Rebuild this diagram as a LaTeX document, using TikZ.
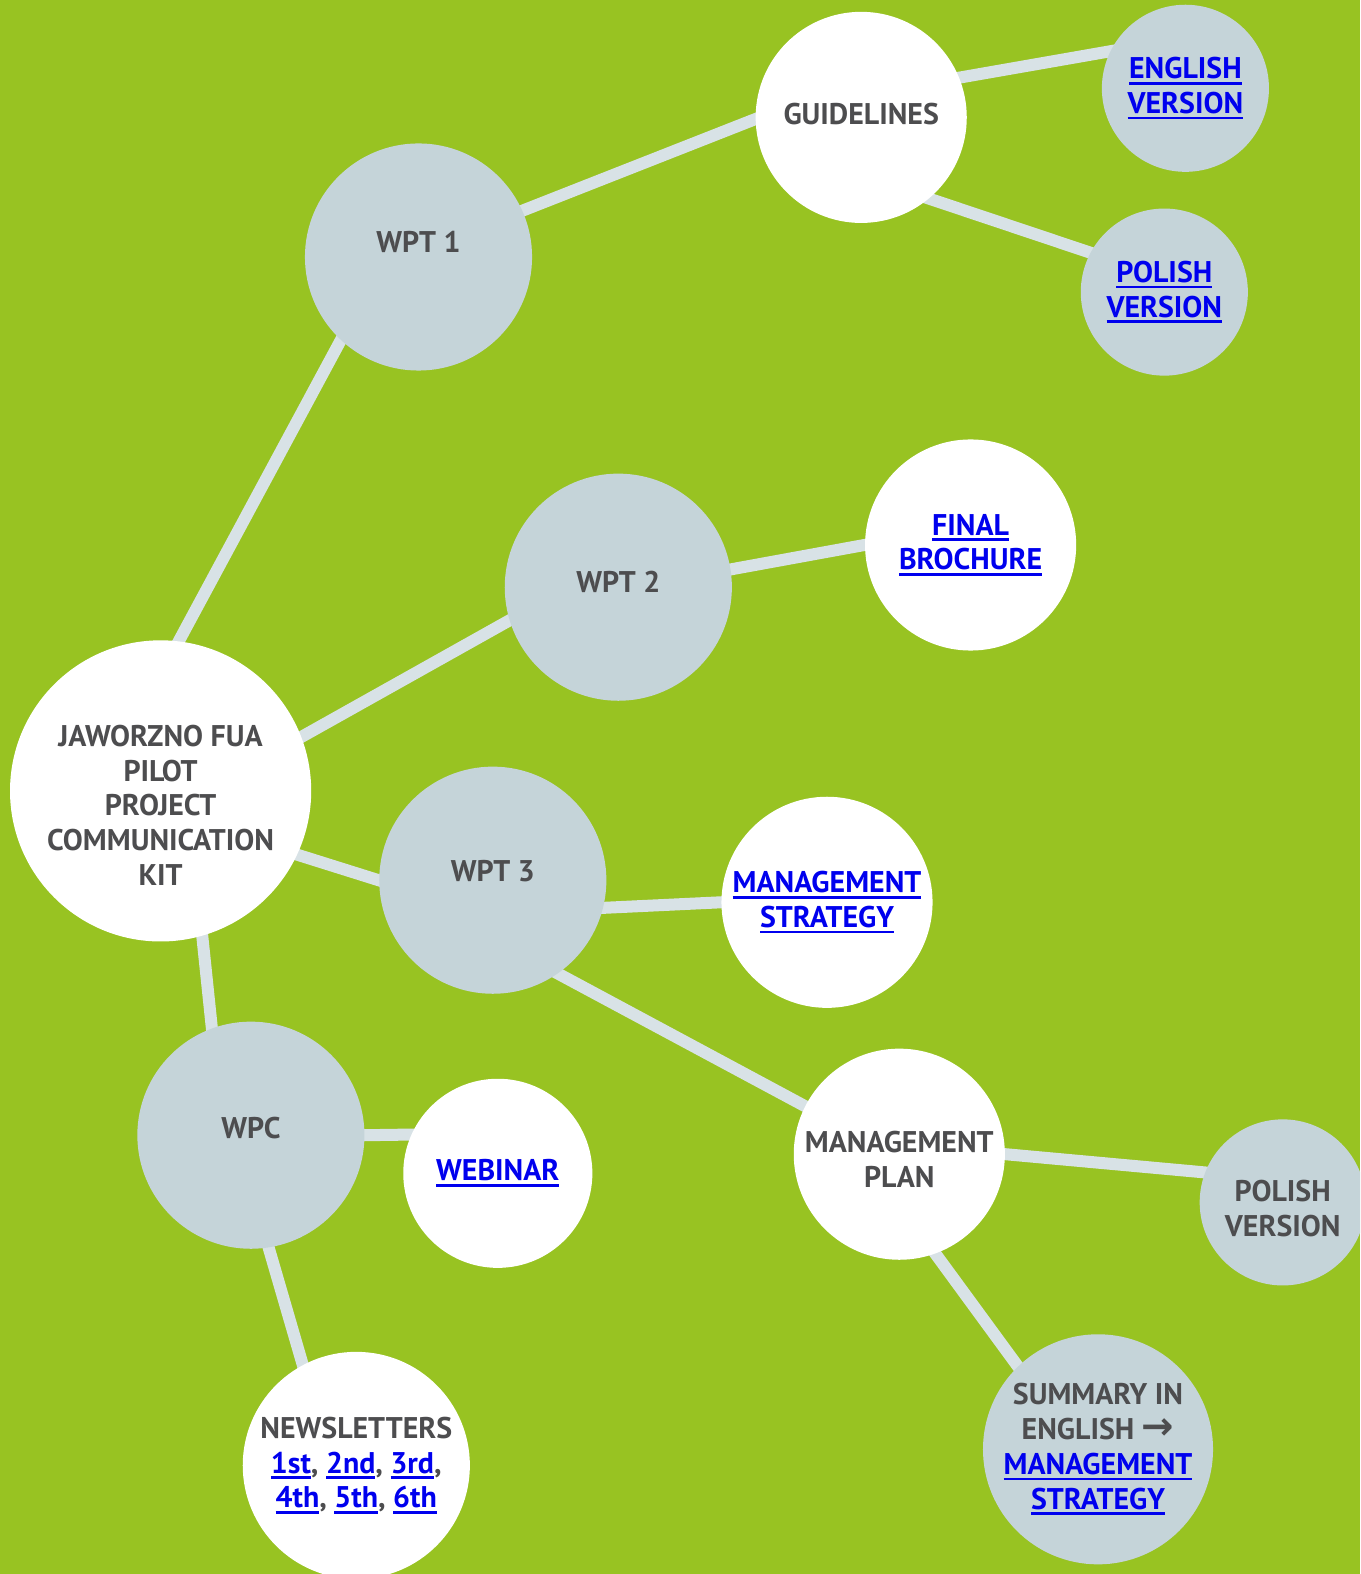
\documentclass[tikz,border=0pt]{standalone}
\usepackage{fontspec}
\setmainfont{PT Sans}
\newfontfamily\arrowfont{DejaVu Sans}
\usetikzlibrary{backgrounds}
\definecolor{bggreen}{HTML}{98C322}
\definecolor{bubble}{HTML}{C5D4D9}
\definecolor{branchgray}{HTML}{D8E2E6}
\definecolor{inkgray}{HTML}{4D4D4F}
\definecolor{linkblue}{HTML}{0000EE}
\newcommand{\lnk}[1]{{\leavevmode\color{linkblue}\setbox0\hbox{#1}\rlap{\rule[-1.7pt]{\wd0}{0.8pt}}\box0}}
\tikzset{
  topic/.style={circle,fill=bubble,inner sep=0pt,align=center,text=inkgray,
    font=\fontsize{8.5}{9.9}\selectfont\bfseries},
  item/.style={topic,fill=white},
  branch/.style={draw=branchgray,line width=0.12cm,shorten <=-1mm,shorten >=-1mm}
}
\begin{document}
\begin{tikzpicture}[x=0.01cm,y=-0.01cm]
	\useasboundingbox (0,0) rectangle (1360,1574);
	\clip (0,0) rectangle (1360,1574);
	% bubbles
	\node[item,minimum size=3.01cm,text height=1.89cm] (kit) at (160.6,790.9) {JAWORZNO FUA\\PILOT\\PROJECT\\COMMUNICATION\\KIT};
	\node[topic,minimum size=2.27cm,text depth=0.3cm] (wpt1) at (418.5,257) {WPT 1};
	\node[item,minimum size=2.11cm,text depth=0.08cm] (guide) at (861.2,117.4) {GUIDELINES};
	\node[topic,minimum size=1.67cm] (gen) at (1185.4,88.3) {\lnk{ENGLISH}\\\lnk{VERSION}};
	\node[topic,minimum size=1.67cm] (gpl) at (1164.3,292.1) {\lnk{POLISH}\\\lnk{VERSION}};
	\node[topic,minimum size=2.27cm,text depth=0.1cm] (wpt2) at (618.3,587.2) {WPT 2};
	\node[item,minimum size=2.11cm] (brochure) at (970.6,545) {\lnk{FINAL}\\\lnk{BROCHURE}};
	\node[topic,minimum size=2.27cm,text depth=0.18cm] (wpt3) at (492.8,880.2) {WPT 3};
	\node[item,minimum size=2.11cm] (strategy) at (827,902.3) {\lnk{MANAGEMENT}\\\lnk{STRATEGY}};
	\node[item,minimum size=2.11cm,text height=0.67cm] (plan) at (899.3,1154.2) {MANAGEMENT\\PLAN};
	\node[topic,minimum size=1.66cm,text height=0.68cm] (ppl) at (1282.7,1202.4) {POLISH\\VERSION};
	\node[topic,minimum size=2.27cm] (summary) at (1098,1449.3) {SUMMARY IN\\ENGLISH {\arrowfont\bfseries\fontsize{11}{9.9}\selectfont →}\\\lnk{MANAGEMENT}\\\lnk{STRATEGY}};
	\node[topic,minimum size=2.27cm,text depth=0.14cm] (wpc) at (250.9,1135.2) {WPC};
	\node[item,minimum size=1.89cm] (webinar) at (497.8,1173.3) {\lnk{WEBINAR}};
	\node[item,minimum size=2.27cm] (news) at (356.3,1465.4) {NEWSLETTERS\\\lnk{1st}, \lnk{2nd}, \lnk{3rd},\\\lnk{4th}, \lnk{5th}, \lnk{6th}};
	% branches
	\begin{pgfonlayer}{background}
		\fill[bggreen] (0,0) rectangle (1360,1574);
		\draw[branch] (kit.83) -- (wpt1.227);
		\draw[branch] (kit.21) -- (wpt2.197);
		\draw[branch] (kit.335) -- (wpt3.180);
		\draw[branch] (kit.286) -- (wpc.110);
		\draw[branch] (wpt1.24) -- (guide.181);
		\draw[branch] (guide.22) -- (gen.154);
		\draw[branch] (guide.310) -- (gpl.152);
		\draw[branch] (wpt2.9) -- (brochure.180);
		\draw[branch] (wpt3.346) -- (strategy.180);
		\draw[branch] (wpt3.305) -- (plan.153);
		\draw[branch] (plan.0) -- (ppl.159);
		\draw[branch] (plan.290) -- (summary.134);
		\draw[branch] (wpc.0) -- (webinar.156);
		\draw[branch] (wpc.279) -- (news.118);
	\end{pgfonlayer}
\end{tikzpicture}
\end{document}
